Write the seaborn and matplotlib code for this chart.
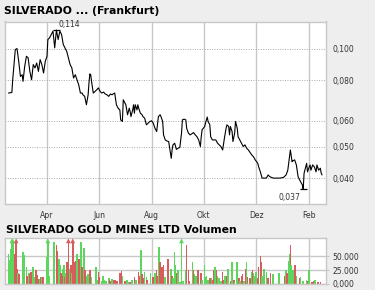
import numpy as np
import pandas as pd
import matplotlib
matplotlib.use("Agg")
import matplotlib.pyplot as plt
from matplotlib.ticker import FixedLocator, NullLocator, FuncFormatter, FixedFormatter
import matplotlib.dates as mdates
import seaborn as sns

# ---------------- data ----------------
title_price = "SILVERADO ... (Frankfurt)"
title_volume = "SILVERADO GOLD MINES LTD Volumen"
start_date = "2007-02-11"
end_date = "2008-02-20"

price_day = [
    4, 8, 9, 12, 14, 16, 18, 20, 21, 23,
    25, 27, 29, 31, 33, 35, 37, 39, 41, 43,
    45, 47, 49, 50, 52, 54, 56, 58, 60, 62,
    64, 66, 68, 70, 72, 74, 76, 78, 80, 82,
    84, 86, 88, 90, 91, 93, 95, 97, 98, 99,
    100, 101, 103, 105, 107, 109, 111, 113, 115, 117,
    119, 121, 123, 125, 126, 128, 130, 132, 134, 135,
    137, 138, 139, 141, 142, 143, 145, 146, 147, 149,
    150, 151, 152, 154, 155, 156, 158, 160, 161, 163,
    165, 167, 169, 171, 173, 175, 177, 179, 181, 182,
    184, 185, 187, 189, 191, 193, 194, 195, 196, 198,
    200, 202, 204, 206, 207, 209, 211, 212, 214, 216,
    218, 220, 222, 224, 226, 228, 229, 230, 233, 234,
    236, 237, 239, 240, 242, 244, 246, 248, 250, 252,
    254, 256, 258, 259, 261, 262, 263, 265, 266, 268,
    269, 271, 272, 274, 276, 278, 280, 282, 284, 288,
    290, 292, 295, 296, 298, 300, 303, 305, 307, 309,
    313, 317, 321, 325, 328, 330, 331, 333, 335, 336,
    338, 340, 342, 344, 347, 348, 349, 351, 352, 353,
    355, 356, 357, 359, 361, 363, 364, 366, 368, 369,
    370,
]
price = [
    0.0730, 0.0733, 0.0802, 0.0993, 0.1000, 0.0914, 0.0821, 0.0831, 0.0793, 0.0882,
    0.0947, 0.0936, 0.0851, 0.0802, 0.0893, 0.0872, 0.0903, 0.0851, 0.0925, 0.0893,
    0.0841, 0.0914, 0.0947, 0.1066, 0.1079, 0.1105, 0.1131, 0.1005, 0.1140, 0.1066,
    0.1131, 0.1105, 0.1029, 0.1005, 0.0981, 0.0936, 0.0893, 0.0872, 0.0812, 0.0831,
    0.0802, 0.0774, 0.0730, 0.0730, 0.0721, 0.0713, 0.0672, 0.0721, 0.0784, 0.0836,
    0.0831, 0.0793, 0.0730, 0.0738, 0.0747, 0.0757, 0.0738, 0.0730, 0.0735, 0.0725,
    0.0721, 0.0713, 0.0725, 0.0721, 0.0725, 0.0730, 0.0672, 0.0656, 0.0648, 0.0604,
    0.0597, 0.0696, 0.0688, 0.0672, 0.0648, 0.0626, 0.0656, 0.0641, 0.0618, 0.0648,
    0.0672, 0.0633, 0.0672, 0.0648, 0.0672, 0.0656, 0.0633, 0.0626, 0.0618, 0.0611,
    0.0583, 0.0590, 0.0597, 0.0600, 0.0590, 0.0569, 0.0556, 0.0618, 0.0626, 0.0618,
    0.0597, 0.0543, 0.0524, 0.0520, 0.0518, 0.0477, 0.0460, 0.0488, 0.0506, 0.0512,
    0.0490, 0.0494, 0.0497, 0.0550, 0.0604, 0.0607, 0.0604, 0.0569, 0.0550, 0.0543,
    0.0547, 0.0552, 0.0543, 0.0536, 0.0524, 0.0500, 0.0536, 0.0563, 0.0576, 0.0590,
    0.0616, 0.0597, 0.0583, 0.0536, 0.0524, 0.0524, 0.0524, 0.0512, 0.0506, 0.0500,
    0.0488, 0.0530, 0.0569, 0.0583, 0.0576, 0.0543, 0.0576, 0.0556, 0.0518, 0.0550,
    0.0597, 0.0569, 0.0536, 0.0524, 0.0512, 0.0500, 0.0506, 0.0494, 0.0488, 0.0471,
    0.0465, 0.0455, 0.0444, 0.0433, 0.0418, 0.0400, 0.0400, 0.0400, 0.0409, 0.0404,
    0.0400, 0.0400, 0.0400, 0.0402, 0.0409, 0.0423, 0.0444, 0.0488, 0.0449, 0.0452,
    0.0455, 0.0439, 0.0404, 0.0394, 0.0381, 0.0370, 0.0414, 0.0433, 0.0444, 0.0418,
    0.0433, 0.0439, 0.0423, 0.0439, 0.0433, 0.0418, 0.0439, 0.0423, 0.0429, 0.0414,
    0.0409,
]

# volume (thousand shares); up = 1 green day, 0 red day
vol_day = [
    4, 5, 7, 8, 9, 11, 12, 13, 14, 15, 16, 21, 22, 25, 26, 28, 29, 30, 33, 34,
    36, 37, 39, 41, 42, 43, 44, 49, 50, 51, 57, 60, 61, 63, 64, 65, 67, 68, 69, 70,
    71, 72, 74, 76, 77, 78, 79, 81, 82, 83, 84, 86, 89, 90, 92, 93, 95, 97, 99, 101,
    106, 107, 109, 110, 113, 114, 116, 118, 121, 122, 124, 125, 127, 128, 131, 134, 136, 137, 140, 142,
    144, 146, 148, 149, 151, 153, 156, 157, 159, 160, 161, 163, 165, 166, 170, 172, 173, 175, 177, 178,
    180, 181, 183, 185, 187, 190, 191, 194, 195, 196, 198, 199, 200, 202, 204, 206, 208, 211, 212, 214,
    215, 219, 220, 221, 223, 225, 226, 228, 229, 230, 233, 234, 235, 237, 239, 241, 242, 244, 245, 247,
    248, 250, 252, 254, 255, 257, 259, 260, 261, 263, 265, 267, 268, 270, 271, 273, 274, 276, 277, 279,
    281, 282, 283, 286, 288, 289, 290, 291, 293, 295, 296, 298, 299, 300, 302, 303, 305, 307, 310, 312,
    313, 320, 326, 328, 329, 331, 332, 333, 334, 336, 338, 339, 340, 344, 345, 347, 348, 352, 353, 355,
    358, 360, 362, 365, 366, 368,
]
vol_k = [
    55, 43, 64, 110, 110, 28, 55, 110, 28, 20, 18, 58, 52, 30, 15, 20, 18, 22, 30, 12,
    25, 17, 9, 9, 13, 13, 13, 48, 110, 15, 75, 71, 60, 46, 35, 20, 28, 15, 34, 12,
    20, 40, 110, 28, 35, 20, 110, 15, 40, 42, 55, 45, 75, 30, 65, 25, 15, 18, 25, 12,
    30, 8, 22, 12, 6, 15, 8, 6, 10, 8, 5, 9, 8, 8, 5, 20, 24, 15, 5, 8,
    4, 4, 7, 3, 12, 8, 22, 14, 62, 18, 10, 22, 12, 8, 20, 8, 12, 20, 25, 15,
    67, 40, 30, 35, 12, 45, 45, 28, 15, 10, 58, 35, 20, 25, 4, 110, 6, 25, 70, 25,
    5, 40, 25, 18, 15, 25, 10, 6, 20, 8, 35, 12, 15, 8, 10, 10, 8, 25, 30, 25,
    15, 10, 5, 22, 8, 15, 15, 28, 8, 5, 40, 8, 4, 25, 40, 10, 6, 14, 18, 6,
    28, 40, 12, 10, 22, 25, 20, 15, 22, 10, 30, 50, 40, 15, 28, 25, 22, 10, 20, 15,
    18, 20, 15, 25, 20, 42, 55, 70, 35, 25, 35, 35, 15, 10, 12, 5, 5, 8, 5, 25,
    4, 5, 8, 3, 3, 3,
]
vol_up = [
    1, 1, 1, 1, 1, 1, 0, 0, 0, 1, 0, 1, 1, 1, 0, 1, 0, 0, 1, 1,
    0, 0, 0, 1, 0, 1, 0, 1, 1, 1, 1, 0, 0, 1, 1, 0, 1, 0, 1, 0,
    1, 0, 0, 1, 0, 1, 0, 0, 0, 0, 1, 0, 1, 0, 1, 0, 1, 1, 0, 1,
    1, 1, 0, 0, 1, 1, 1, 1, 1, 0, 0, 1, 0, 0, 0, 0, 0, 1, 0, 1,
    1, 0, 1, 1, 0, 1, 0, 0, 1, 0, 0, 1, 1, 0, 1, 0, 0, 1, 0, 0,
    1, 0, 0, 0, 1, 0, 0, 1, 0, 1, 1, 1, 0, 1, 1, 1, 1, 1, 0, 0,
    0, 1, 0, 1, 1, 0, 0, 1, 0, 1, 1, 1, 1, 1, 0, 1, 0, 0, 1, 0,
    1, 1, 1, 0, 0, 1, 0, 1, 1, 0, 1, 0, 1, 1, 1, 0, 1, 0, 0, 1,
    0, 1, 0, 0, 1, 0, 1, 1, 1, 0, 0, 0, 0, 1, 1, 1, 1, 0, 0, 1,
    1, 1, 0, 1, 0, 1, 1, 0, 1, 1, 0, 0, 1, 0, 1, 0, 1, 1, 0, 1,
    0, 0, 1, 0, 0, 0,
]

month_ticks = ["2007-04-01", "2007-06-01", "2007-08-01", "2007-10-01", "2007-12-01", "2008-02-01"]
month_labels = ["Apr", "Jun", "Aug", "Okt", "Dez", "Feb"]
price_ticks = [0.040, 0.050, 0.060, 0.080, 0.100]
vol_ticks = [0, 25000, 50000]
vol_tick_labels = ["0,000", "25.000", "50.000"]

# ---------------- styling ----------------
sns.set_style("white")
plt.rcParams["font.family"] = ["DejaVu Sans"]

BG = "#eeeeee"
GRID = "#c8c8c8"
TXT = "#333333"
GREEN = "#5cd65c"
RED = "#d95c5c"

t0 = pd.Timestamp(start_date)
df = pd.DataFrame({"date": t0 + pd.to_timedelta(price_day, unit="D"), "price": price})
dv = pd.DataFrame({"date": t0 + pd.to_timedelta(vol_day, unit="D"),
                   "vol": np.array(vol_k) * 1000.0, "up": vol_up})

fig = plt.figure(figsize=(3.75, 2.9), dpi=100, facecolor=BG)
W, H = 375.0, 290.0
ax = fig.add_axes([5 / W, 1 - 204 / H, 320.5 / W, (204 - 21.5) / H])
axv = fig.add_axes([5 / W, 1 - 284 / H, 320.5 / W, (284 - 237.5) / H])

xlim = (pd.Timestamp(start_date), pd.Timestamp(end_date))
xticks = [mdates.date2num(pd.Timestamp(t)) for t in month_ticks]

# ---- price panel ----
ax.set_facecolor("white")
sns.lineplot(data=df, x="date", y="price", ax=ax, color="black", lw=0.8,
             estimator=None, sort=False)
ax.set_yscale("log")
ax.set_ylim(0.0333, 0.1211)
ax.set_xlim(xlim)
ax.yaxis.set_major_locator(FixedLocator(price_ticks))
ax.yaxis.set_minor_locator(NullLocator())
ax.yaxis.set_major_formatter(FuncFormatter(lambda v, p: f"{v:.3f}".replace(".", ",")))
ax.yaxis.set_minor_formatter(FuncFormatter(lambda v, p: ""))
ax.yaxis.tick_right()
ax.xaxis.set_major_locator(FixedLocator(xticks))
ax.xaxis.set_major_formatter(FixedFormatter(month_labels))
ax.xaxis.set_minor_locator(NullLocator())
ax.tick_params(axis="x", length=3, width=0.8, color=TXT, labelsize=5.5,
               labelcolor=TXT, pad=2, direction="out")
ax.tick_params(axis="y", length=0, labelsize=5.5, labelcolor=TXT, pad=5)
ax.xaxis.grid(True, color=GRID, lw=1, ls="-")
ax.yaxis.grid(True, color="#aaaaaa", lw=0.7, ls=(0, (1, 1.5)))
ax.set_axisbelow(True)
for s in ax.spines.values():
    s.set_color(GRID)
    s.set_linewidth(1)
ax.set_xlabel("")
ax.set_ylabel("")

# max / min markers
imax = int(np.argmax(df["price"].values))
imin = int(np.argmin(df["price"].values))
for i, dx, dy, ha, va in [(imax, 2, 1, "left", "bottom"), (imin, -3, -4, "right", "top")]:
    d = df["date"].iloc[i]
    v = df["price"].iloc[i]
    ax.hlines(v, d - pd.Timedelta(days=4), d + pd.Timedelta(days=4), color="black", lw=0.9)
    ax.annotate(f"{v:.3f}".replace(".", ","), xy=(d, v), xytext=(dx, dy),
                textcoords="offset pixels", ha=ha, va=va, fontsize=5.5, color=TXT)

# ---- volume panel ----
axv.set_facecolor("white")
vmax = 84000
clip = 78000
vals = dv["vol"].clip(upper=clip)
cols = [GREEN if u else RED for u in dv["up"]]
axv.bar(dv["date"], vals, width=1.9, color=cols, linewidth=0, antialiased=False)
over = dv["vol"] > vmax
axv.scatter(dv["date"][over], [clip] * int(over.sum()), marker="^", s=12,
            c=[c for c, o in zip(cols, over) if o], linewidths=0, zorder=3)
axv.set_xlim(xlim)
axv.set_ylim(0, vmax)
axv.yaxis.set_major_locator(FixedLocator(vol_ticks))
axv.yaxis.set_major_formatter(FixedFormatter(vol_tick_labels))
axv.yaxis.tick_right()
axv.xaxis.set_major_locator(FixedLocator(xticks))
axv.xaxis.set_major_formatter(FuncFormatter(lambda v, p: ""))
axv.tick_params(axis="x", length=0)
axv.tick_params(axis="y", length=2, width=0.8, color=GRID, labelsize=5.5,
                labelcolor=TXT, pad=3)
axv.grid(True, color=GRID, lw=1, ls="-")
axv.set_axisbelow(True)
for s in axv.spines.values():
    s.set_color(GRID)
    s.set_linewidth(1)

# titles
fig.text(4 / W, 1 - 11 / H, title_price, fontsize=7.8, fontweight="bold",
         color="black", va="center", ha="left")
fig.text(6 / W, 1 - 230 / H, title_volume, fontsize=7.8, fontweight="bold",
         color="black", va="center", ha="left")

fig.savefig("out.png", dpi=100, facecolor=BG)
